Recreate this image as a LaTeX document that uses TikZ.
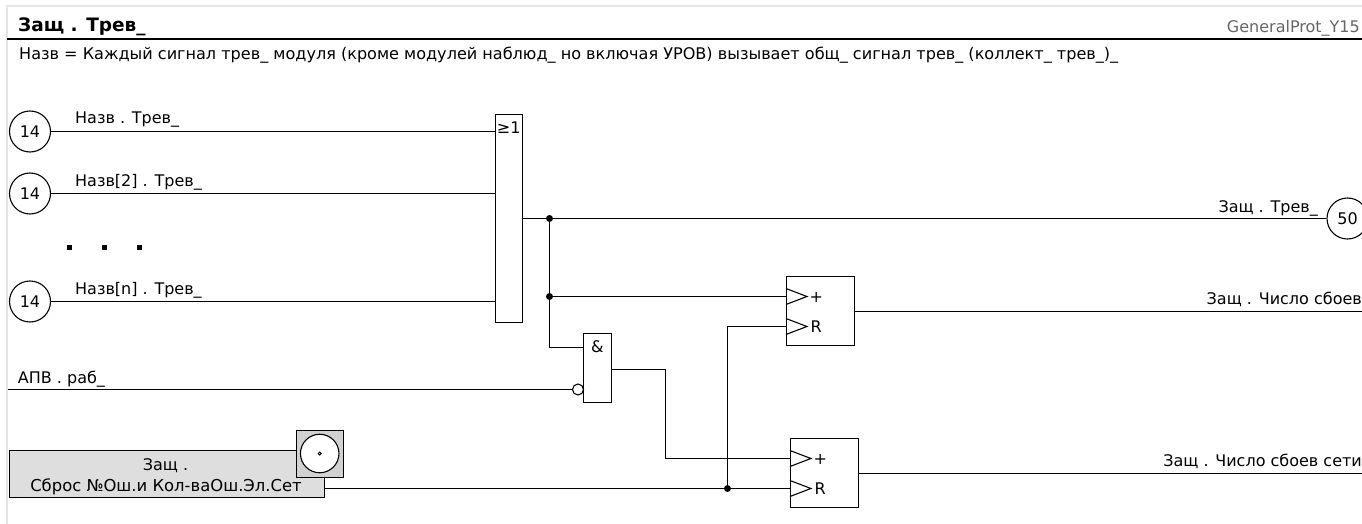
\documentclass[tikz,border=0pt]{standalone}
\usepackage{fontspec}
\setmainfont{DejaVu Sans}
\tikzset{
  wire/.style={line width=1.1pt,black},
  refcirc/.style={circle,draw,line width=1.1pt,minimum size=41pt,inner sep=0pt,font=\fontsize{16}{18}\selectfont},
  gate/.style={rectangle,draw,line width=1.1pt,fill=white,inner sep=0pt},
  lbl/.style={inner sep=0pt,anchor=base west,font=\fontsize{16}{18}\selectfont},
  lblr/.style={inner sep=0pt,anchor=base east,font=\fontsize{16}{18}\selectfont},
  junction/.style={circle,fill=black,inner sep=0pt,minimum size=7pt},
  ellipsisdot/.style={rectangle,fill=black,inner sep=0pt,minimum size=5pt},
  trig/.style={line width=1.1pt,draw=black}
}
\begin{document}
\begin{tikzpicture}[x=1pt,y=-1pt]
\useasboundingbox (0,0) rectangle (1362,524);
% frame
\draw[line width=1.5pt,black!10] (7,524) -- (7,6) -- (1362,6);
\draw[line width=2pt] (7,39) -- (1362,39);
\node[lbl,font=\fontsize{18.5}{20}\selectfont\bfseries] (title) at (18,31.5) {Защ . Трев\_};
\node[lblr,text=black!60] (tag) at (1360,32.5) {GeneralProt\_Y15};
\node[lbl,font=\fontsize{16.07}{18}\selectfont] (desc) at (19,60) {Назв = Каждый сигнал трев\_ модуля (кроме модулей наблюд\_ но включая УРОВ) вызывает общ\_ сигнал трев\_ (коллект\_ трев\_)\_};
% input references
\node[refcirc] (in1) at (30,131.5) {14};
\node[refcirc] (in2) at (30,193.5) {14};
\node[refcirc] (in3) at (30,301.5) {14};
\node[refcirc] (out1) at (1347.5,218.5) {50};
\node[lbl] (l1) at (75,124) {Назв . Трев\_};
\node[lbl] (l2) at (75,186) {Назв[2] . Трев\_};
\node[lbl] (l3) at (75,294) {Назв[n] . Трев\_};
\node[ellipsisdot] (e1) at (69.5,247.5) {};
\node[ellipsisdot] (e2) at (104.5,247.5) {};
\node[ellipsisdot] (e3) at (139.5,247.5) {};
% OR gate
\node[gate,minimum width=27pt,minimum height=208pt] (or) at (509,218.5) {};
\node[inner sep=0pt,anchor=base,font=\fontsize{16}{18}\selectfont] (orl) at (508.75,133) {≥1};
\draw[wire] (in1) -- (in1 -| or.west);
\draw[wire] (in2) -- (in2 -| or.west);
\draw[wire] (in3) -- (in3 -| or.west);
% AND gate
\node[gate,minimum width=28pt,minimum height=69pt] (and) at (597.5,368) {};
\node[inner sep=0pt,anchor=base,font=\fontsize{16}{18}\selectfont] (andl) at (597.3,352.5) {\&};
\node[circle,draw,line width=1.1pt,fill=white,inner sep=0pt,minimum size=11pt] (neg) at (578,389.5) {};
% counters
\node[gate,minimum width=68pt,minimum height=69pt] (c1) at (820.5,311) {};
\node[gate,minimum width=68pt,minimum height=69pt] (c2) at (824.5,473) {};
% junctions
\coordinate (orout) at (or.east |- 0,218.5);
\node[junction] (j1) at (549.5,218.5) {};
\node[junction] (j2) at (549.5,296.5) {};
\node[junction] (j3) at (727.5,488.5) {};
\coordinate (c1p) at (c1.west |- 0,296.5);
\coordinate (c1r) at (c1.west |- 0,326.5);
\coordinate (c2p) at (c2.west |- 0,458.5);
\coordinate (c2r) at (c2.west |- 0,488.5);
\coordinate (andup) at (and.west |- 0,347.5);
\coordinate (andout) at (and.east |- 0,369.5);
\coordinate (bend) at (665.5,369.5);
\coordinate (apvstart) at (8,389.5);
% outputs
\coordinate (oc1) at (1362,311.5);
\coordinate (oc2) at (1362,473.5);
\draw[wire] (orout) -- (j1) -- (out1);
\draw[wire] (j1) -- (j2) -- (j2 |- andup) -- (andup);
\draw[wire] (j2) -- (c1p);
\draw[wire] (apvstart) -- (neg);
\draw[wire] (andout) -- (bend) |- (c2p);
\draw[wire] (j3) |- (c1r);
\draw[wire] (c1.east |- oc1) -- (oc1);
\draw[wire] (c2.east |- oc2) -- (oc2);
% trigger marks
\draw[trig] (c1p) ++(0,-8) -- ++(21,8) -- ++(-21,8);
\draw[trig] (c1r) ++(0,-8) -- ++(21,8) -- ++(-21,8);
\draw[trig] (c2p) ++(0,-8) -- ++(21,8) -- ++(-21,8);
\draw[trig] (c2r) ++(0,-8) -- ++(21,8) -- ++(-21,8);
\node[lbl] (cp1) at (809.5,302) {+};
\node[lbl] (cr1) at (810.5,332.5) {R};
\node[lbl] (cp2) at (813.5,464) {+};
\node[lbl] (cr2) at (814.5,494.5) {R};
% output labels
\node[lblr] (ol1) at (1318,212.7) {Защ . Трев\_};
\node[lblr] (ol2) at (1362,304) {Защ . Число сбоев};
\node[lblr] (ol3) at (1362,466) {Защ . Число сбоев сети};
\node[lbl] (apv) at (17.7,383) {АПВ . раб\_};
% reset box
\node[rectangle,draw,line width=1.1pt,fill=black!13,minimum width=315pt,minimum height=47pt,inner sep=0pt] (rst) at (167,474) {};
\node[inner sep=0pt,anchor=base,font=\fontsize{16}{18}\selectfont] (rst1) at (165.5,470) {Защ .};
\node[inner sep=0pt,anchor=base,font=\fontsize{16.4}{18}\selectfont] (rst2) at (166,491) {Сброс №Ош.и Кол-ваОш.Эл.Сет};
\node[rectangle,draw,line width=1.1pt,fill=black!18,minimum width=47pt,minimum height=47pt,inner sep=0pt] (btn) at (320,454) {};
\node[circle,draw,line width=1.1pt,fill=white,minimum size=38.5pt,inner sep=0pt] (btnc) at (319.7,453.5) {};
\node[circle,draw,line width=1pt,fill=white,minimum size=3pt,inner sep=0pt] (btnd) at (319.7,453.5) {};
\draw[wire] (rst.east |- c2r) -- (j3) -- (c2r);
\end{tikzpicture}
\end{document}
